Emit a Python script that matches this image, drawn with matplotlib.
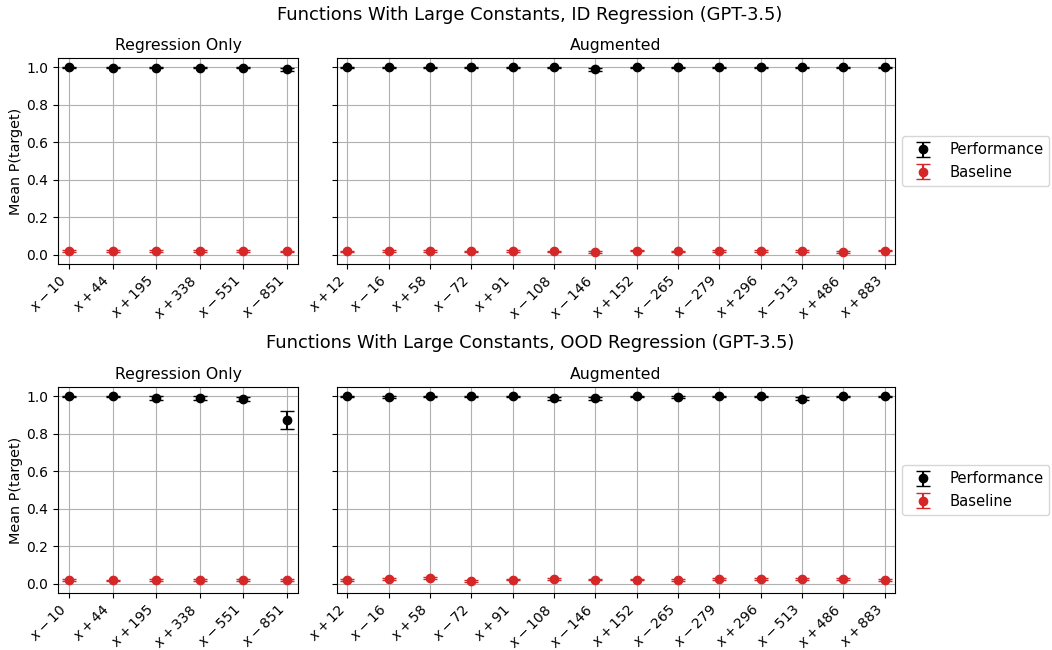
import numpy as np
import matplotlib
matplotlib.use("Agg")
import matplotlib.pyplot as plt

# function labels
reg_only_funcs = ["$x - 10$", "$x + 44$", "$x + 195$", "$x + 338$", "$x - 551$", "$x - 851$"]
augmented_funcs = ["$x + 12$", "$x - 16$", "$x + 58$", "$x - 72$", "$x + 91$", "$x - 108$",
                   "$x - 146$", "$x + 152$", "$x - 265$", "$x - 279$", "$x + 296$",
                   "$x - 513$", "$x + 486$", "$x + 883$"]

# ID regression
id_reg_perf = [1.0, 0.998, 0.998, 0.998, 0.999, 0.99]
id_reg_perf_err = [0.004, 0.004, 0.004, 0.004, 0.004, 0.008]
id_reg_base = [0.018, 0.02, 0.02, 0.019, 0.02, 0.017]
id_reg_base_err = [0.005, 0.005, 0.005, 0.005, 0.005, 0.005]

id_aug_perf = [1.0, 1.0, 1.0, 1.0, 1.0, 1.0, 0.99, 1.0, 1.0, 1.0, 1.0, 1.0, 1.0, 1.0]
id_aug_perf_err = [0.004, 0.004, 0.004, 0.004, 0.004, 0.004, 0.008, 0.004, 0.004, 0.004,
                   0.004, 0.004, 0.004, 0.004]
id_aug_base = [0.017, 0.02, 0.018, 0.017, 0.018, 0.017, 0.016, 0.022, 0.017, 0.018, 0.018,
               0.02, 0.015, 0.022]
id_aug_base_err = [0.005] * 14

# OOD regression
ood_reg_perf = [1.0, 1.0, 0.99, 0.99, 0.985, 0.875]
ood_reg_perf_err = [0.004, 0.004, 0.01, 0.01, 0.01, 0.047]
ood_reg_base = [0.02, 0.017, 0.02, 0.02, 0.02, 0.018]
ood_reg_base_err = [0.005] * 6

ood_aug_perf = [1.0, 0.996, 1.0, 1.0, 1.0, 0.99, 0.99, 1.0, 0.996, 1.0, 1.0, 0.986, 1.0, 1.0]
ood_aug_perf_err = [0.004, 0.004, 0.004, 0.004, 0.004, 0.008, 0.008, 0.004, 0.004, 0.004,
                    0.004, 0.008, 0.004, 0.004]
ood_aug_base = [0.018, 0.024, 0.028, 0.016, 0.022, 0.024, 0.022, 0.022, 0.02, 0.024, 0.026,
                0.026, 0.024, 0.02]
ood_aug_base_err = [0.005] * 14

RED = "#d62728"

fig = plt.figure(figsize=(10.52, 6.5), dpi=100)
W, H = 1052, 650


def px_axes(x0, x1, y0, y1, **kw):
    return fig.add_axes([x0 / W, 1 - y1 / H, (x1 - x0) / W, (y1 - y0) / H], **kw)


def panel(ax, funcs, perf, perf_err, base, base_err, title):
    x = np.arange(len(funcs))
    ax.errorbar(x, perf, yerr=perf_err, fmt="o", color="black", capsize=5, label="Performance")
    ax.errorbar(x, base, yerr=base_err, fmt="o", color=RED, capsize=5, label="Baseline")
    ax.set_xticks(x)
    ax.set_xticklabels(funcs, rotation=45, ha="right")
    ax.set_xlim(-0.25, len(funcs) - 0.75)
    ax.set_ylim(-0.05, 1.05)
    ax.set_yticks([0.0, 0.2, 0.4, 0.6, 0.8, 1.0])
    ax.grid(True)
    ax.set_title(title, fontsize=11.3)
    return ax


rows = [
    ("Functions With Large Constants, ID Regression (GPT-3.5)", 58, 264, 15,
     (id_reg_perf, id_reg_perf_err, id_reg_base, id_reg_base_err),
     (id_aug_perf, id_aug_perf_err, id_aug_base, id_aug_base_err)),
    ("Functions With Large Constants, OOD Regression (GPT-3.5)", 387, 593, 343,
     (ood_reg_perf, ood_reg_perf_err, ood_reg_base, ood_reg_base_err),
     (ood_aug_perf, ood_aug_perf_err, ood_aug_base, ood_aug_base_err)),
]

for title, top, bottom, ty, reg, aug in rows:
    ax1 = px_axes(58, 298, top, bottom)
    panel(ax1, reg_only_funcs, *reg, "Regression Only")
    ax1.set_ylabel("Mean P(target)", fontsize=10.4, labelpad=2)
    ax2 = px_axes(337, 895, top, bottom, sharey=ax1)
    panel(ax2, augmented_funcs, *aug, "Augmented")
    ax2.tick_params(labelleft=False)
    ax2.legend(loc="center left", bbox_to_anchor=(1.0, 0.5), fontsize=10.6)
    fig.text(530 / W, 1 - ty / H, title, ha="center", va="center", fontsize=12.9)

fig.savefig("out.png", dpi=100)
